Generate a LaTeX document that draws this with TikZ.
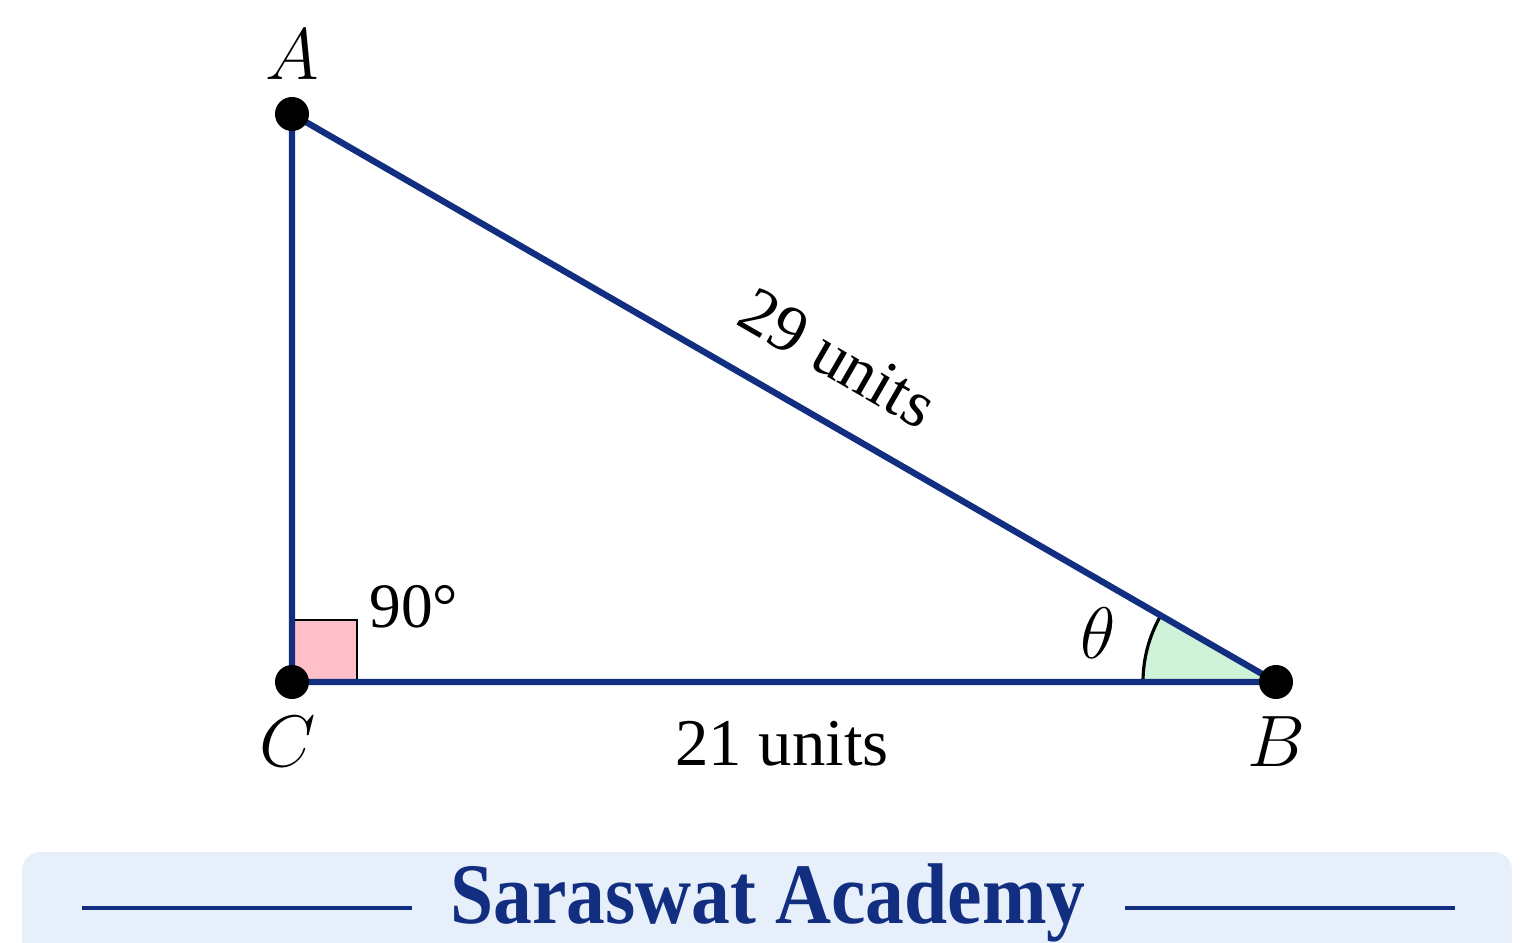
\documentclass[tikz,border=0pt]{standalone}
\usepackage{fontspec}
\setmainfont{Liberation Serif}
\definecolor{edgeblue}{RGB}{18,46,128}
\definecolor{anglepink}{RGB}{255,192,202}
\definecolor{anglegreen}{RGB}{206,243,216}
\definecolor{bannerfill}{RGB}{230,239,250}

\begin{document}
\begin{tikzpicture}[x=0.01cm, y=-0.01cm,
    vertex/.style={circle,fill=black,inner sep=0pt,minimum size=0.34cm},
    side/.style={draw=edgeblue,line width=1.8pt},
    ptlabel/.style={font=\fontsize{21}{25}\selectfont},
    sidelabel/.style={font=\fontsize{19}{23}\selectfont},
    rule/.style={draw=edgeblue,line width=1.4pt}]
    \useasboundingbox (0,0) rectangle (1536,943);

    % banner
    \fill[bannerfill, rounded corners=0.18cm] (22,852) rectangle (1512,990);
    \node[font=\fontsize{24.5}{28}\selectfont\bfseries, text=edgeblue, xscale=0.9] (title) at (768,903) {Saraswat Academy};
    \coordinate (rule_l_start) at (82,908);
    \coordinate (rule_l_end) at (412,908);
    \coordinate (rule_r_start) at (1125,908);
    \coordinate (rule_r_end) at (1455,908);
    \draw[rule] (rule_l_start) -- (rule_l_end);
    \draw[rule] (rule_r_start) -- (rule_r_end);

    % corners
    \coordinate (A) at (292,114);
    \coordinate (C) at (292,682);
    \coordinate (B) at (1276,682);

    % angle marks
    \draw[fill=anglepink, line width=0.7pt] (C) rectangle (357,620);
    \fill[anglegreen] (B) -- ++(-133,0) arc[start angle=180, end angle=210, radius=133] -- cycle;
    \draw[line width=0.9pt] (B) ++(-133,0) arc[start angle=180, end angle=210, radius=133];

    % sides
    \draw[side] (A) -- (C) -- (B) -- cycle;

    \node[vertex] (dot_A) at (A) {};
    \node[vertex] (dot_B) at (B) {};
    \node[vertex] (dot_C) at (C) {};

    \node[ptlabel] (lab_A) at (292,55) {$A$};
    \node[ptlabel] (lab_C) at (288,742) {$C$};
    \node[ptlabel] (lab_B) at (1276,742) {$B$};
    \node[ptlabel] (lab_theta) at (1098,633) {$\theta$};
    \node[sidelabel, font=\fontsize{18}{22}\selectfont] (lab_right) at (414,607) {90°};
    \node[sidelabel] (lab_CB) at (782,744) {21 units};
    \node[sidelabel, rotate=-30] (lab_AB) at (838,358) {29 units};
\end{tikzpicture}
\end{document}
